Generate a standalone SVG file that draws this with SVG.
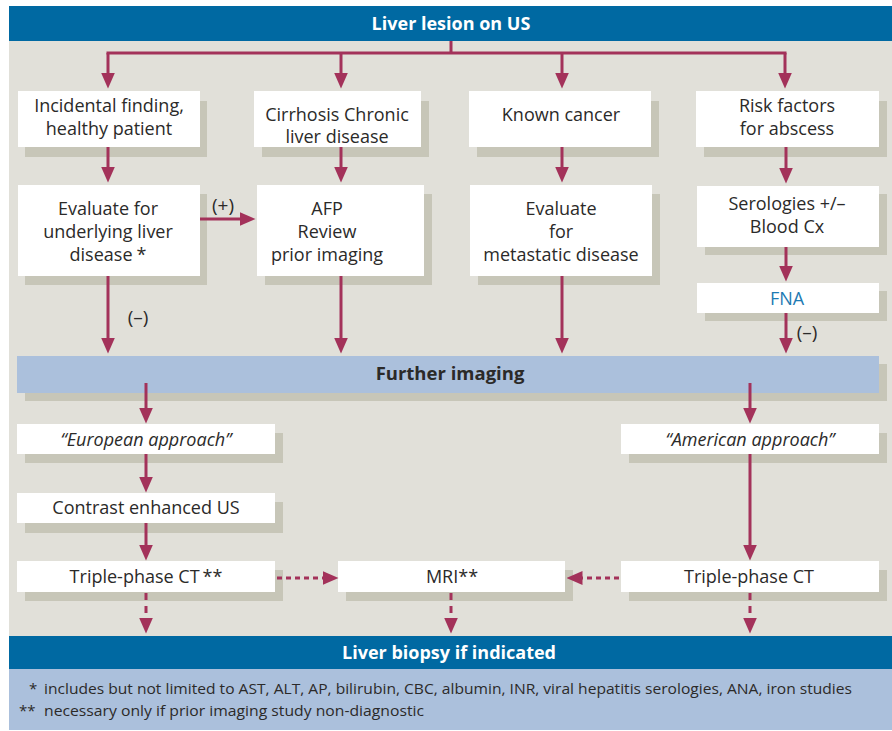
<svg xmlns="http://www.w3.org/2000/svg" width="892" height="731" viewBox="0 0 892 731">
<defs>
<style>
.bg{fill:#e1e0d9}
.sh{fill:#c7c6b8}
.box{fill:#ffffff}
.t{font-family:"Open Sans","Noto Sans",sans-serif;font-size:18px;fill:#2b2a29;text-anchor:middle}
.it{font-style:italic}
.hb{font-family:"Open Sans","Noto Sans",sans-serif;font-size:18px;font-weight:bold;fill:#ffffff;text-anchor:middle}
.fb{font-family:"Open Sans","Noto Sans",sans-serif;font-size:18.5px;font-weight:bold;fill:#2b2a29;text-anchor:middle}
.lbl{font-family:"Open Sans","Noto Sans",sans-serif;font-size:19px;fill:#2b2a29;text-anchor:middle}
.fn{font-family:"Open Sans","Noto Sans",sans-serif;font-size:15px;fill:#2b2a29}
.c{stroke:#a3325a;stroke-width:3;fill:none}
.dot{stroke-dasharray:5 4}
.dash{stroke-dasharray:7 6}
</style>
<marker id="ah" viewBox="0 -7 16 14" markerWidth="16" markerHeight="14" refX="0.5" refY="0" orient="auto" markerUnits="userSpaceOnUse">
<path d="M0,-7 L16,0 L0,7 z" fill="#a3325a"/>
</marker>
</defs>

<rect class="bg" x="9" y="40" width="883" height="597"/>

<g id="header">
<rect x="9" y="6" width="883" height="35" fill="#0069a2"/>
<text class="hb" x="451" y="30">Liver lesion on US</text>
</g>

<g id="incidental">
<rect class="sh" x="25" y="101" width="182" height="56"/>
<rect class="box" x="18" y="91" width="182" height="56"/>
<text class="t" x="109" y="112">Incidental finding,</text>
<text class="t" x="109" y="135">healthy patient</text>
</g>

<g id="cirrhosis">
<rect class="sh" x="262" y="101" width="167" height="56"/>
<rect class="box" x="254" y="91" width="167" height="56"/>
<text class="t" x="337" y="121">Cirrhosis Chronic</text>
<text class="t" x="337" y="143">liver disease</text>
</g>

<g id="known-cancer">
<rect class="sh" x="477" y="101" width="182" height="56"/>
<rect class="box" x="469" y="91" width="182" height="56"/>
<text class="t" x="561" y="121">Known cancer</text>
</g>

<g id="risk-factors">
<rect class="sh" x="704" y="101" width="183" height="56"/>
<rect class="box" x="696" y="91" width="183" height="56"/>
<text class="t" x="787" y="112">Risk factors</text>
<text class="t" x="787" y="135">for abscess</text>
</g>

<g id="evaluate-liver">
<rect class="sh" x="25" y="194" width="182" height="91"/>
<rect class="box" x="18" y="185" width="182" height="91"/>
<text class="t" x="108" y="215">Evaluate for</text>
<text class="t" x="108" y="238">underlying liver</text>
<text class="t" x="108" y="261">disease<tspan dx="4">*</tspan></text>
</g>

<g id="afp">
<rect class="sh" x="265" y="194" width="167" height="91"/>
<rect class="box" x="257" y="185" width="167" height="91"/>
<text class="t" x="327" y="215">AFP</text>
<text class="t" x="327" y="238">Review</text>
<text class="t" x="327" y="261">prior imaging</text>
</g>

<g id="evaluate-metastatic">
<rect class="sh" x="478" y="194" width="182" height="91"/>
<rect class="box" x="470" y="185" width="182" height="91"/>
<text class="t" x="561" y="215">Evaluate</text>
<text class="t" x="561" y="238">for</text>
<text class="t" x="561" y="261">metastatic disease</text>
</g>

<g id="serologies">
<rect class="sh" x="705" y="194" width="182" height="61"/>
<rect class="box" x="697" y="186" width="182" height="61"/>
<text class="t" x="787" y="210">Serologies +/–</text>
<text class="t" x="787" y="233">Blood Cx</text>
</g>

<g id="fna">
<rect class="sh" x="705" y="291" width="182" height="30"/>
<rect class="box" x="697" y="283" width="182" height="30"/>
<text class="t" x="787" y="305" style="fill:#1d7ab3">FNA</text>
</g>

<g id="further-imaging">
<rect class="sh" x="25" y="364" width="862" height="37"/>
<rect x="17" y="356" width="862" height="37" fill="#abc0dc"/>
<text class="fb" x="450" y="380">Further imaging</text>
</g>

<g id="european">
<rect class="sh" x="25" y="433" width="258" height="30"/>
<rect class="box" x="17" y="424" width="258" height="30"/>
<text class="t it" x="146" y="446">“European approach”</text>
</g>

<g id="american">
<rect class="sh" x="629" y="433" width="258" height="30"/>
<rect class="box" x="621" y="424" width="258" height="30"/>
<text class="t it" x="750" y="446">“American approach”</text>
</g>

<g id="contrast-us">
<rect class="sh" x="25" y="502" width="258" height="31"/>
<rect class="box" x="17" y="493" width="258" height="30"/>
<text class="t" x="146" y="514">Contrast enhanced US</text>
</g>

<g id="triple-ct-left">
<rect class="sh" x="25" y="570" width="258" height="31"/>
<rect class="box" x="17" y="561" width="258" height="31"/>
<text class="t" x="146" y="583">Triple-phase CT<tspan dx="3">**</tspan></text>
</g>

<g id="mri">
<rect class="sh" x="346" y="570" width="227" height="31"/>
<rect class="box" x="338" y="561" width="227" height="31"/>
<text class="t" x="452" y="583">MRI**</text>
</g>

<g id="triple-ct-right">
<rect class="sh" x="629" y="570" width="258" height="31"/>
<rect class="box" x="621" y="561" width="258" height="31"/>
<text class="t" x="749" y="583">Triple-phase CT</text>
</g>

<g id="biopsy">
<rect x="9" y="636" width="883" height="34" fill="#0069a2"/>
<text class="hb" x="449" y="659">Liver biopsy if indicated</text>
</g>

<g id="footnotes">
<rect x="9" y="669" width="883" height="61" fill="#abc0dc"/>
<text class="fn" x="29" y="694">*</text>
<text class="fn" x="44" y="694" textLength="808" lengthAdjust="spacingAndGlyphs">includes but not limited to AST, ALT, AP, bilirubin, CBC, albumin, INR, viral hepatitis serologies, ANA, iron studies</text>
<text class="fn" x="19" y="716">**</text>
<text class="fn" x="44" y="716" textLength="380" lengthAdjust="spacingAndGlyphs">necessary only if prior imaging study non-diagnostic</text>
</g>

<g id="connectors">
<path class="c" d="M451,41 V53 M106.5,53 H786.5"/>
<path class="c" d="M108,53 V73" marker-end="url(#ah)"/>
<path class="c" d="M341,53 V73" marker-end="url(#ah)"/>
<path class="c" d="M562,53 V73" marker-end="url(#ah)"/>
<path class="c" d="M785,53 V73" marker-end="url(#ah)"/>
<path class="c" d="M108,147 V167" marker-end="url(#ah)"/>
<path class="c" d="M341,147 V167" marker-end="url(#ah)"/>
<path class="c" d="M562,147 V167" marker-end="url(#ah)"/>
<path class="c" d="M786,147 V168" marker-end="url(#ah)"/>
<path class="c" d="M200,219 H240" marker-end="url(#ah)"/>
<text class="lbl" x="223" y="212">(+)</text>
<path class="c" d="M108,276 V338" marker-end="url(#ah)"/>
<text class="lbl" x="138" y="324">(–)</text>
<path class="c" d="M341,276 V338" marker-end="url(#ah)"/>
<path class="c" d="M562,276 V338" marker-end="url(#ah)"/>
<path class="c" d="M786,247 V266" marker-end="url(#ah)"/>
<path class="c" d="M786,313 V338" marker-end="url(#ah)"/>
<text class="lbl" x="807" y="339">(–)</text>
<path class="c" d="M146,383 V408" marker-end="url(#ah)"/>
<path class="c" d="M750,383 V408" marker-end="url(#ah)"/>
<path class="c" d="M146,454 V477" marker-end="url(#ah)"/>
<path class="c" d="M146,523 V545" marker-end="url(#ah)"/>
<path class="c" d="M750,454 V545" marker-end="url(#ah)"/>
<path class="c dot" d="M277,578 H323" marker-end="url(#ah)"/>
<path class="c dot" d="M619,578 H582" marker-end="url(#ah)"/>
<path class="c dash" d="M146,593 V618" marker-end="url(#ah)"/>
<path class="c dash" d="M451,593 V618" marker-end="url(#ah)"/>
<path class="c dash" d="M750,593 V618" marker-end="url(#ah)"/>
</g>
</svg>
